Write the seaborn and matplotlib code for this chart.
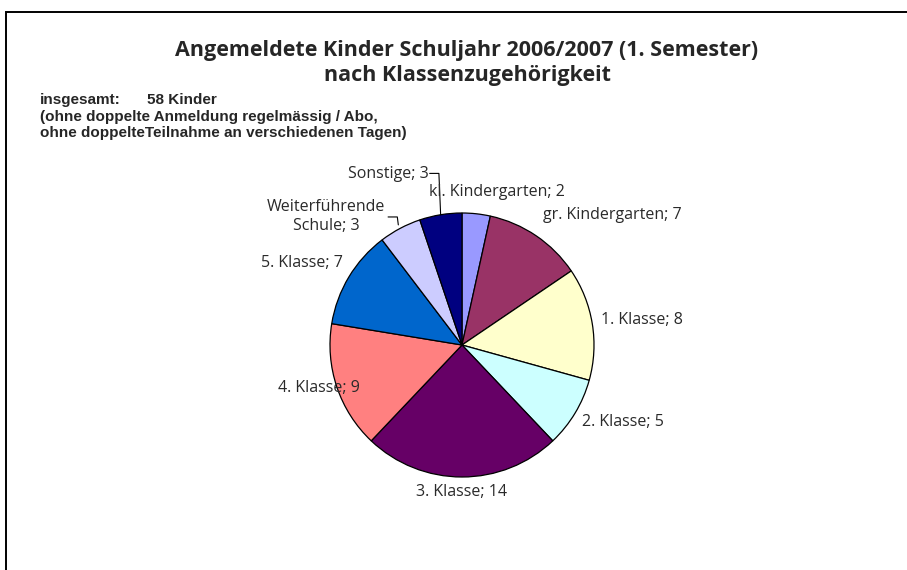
import numpy as np
import matplotlib
matplotlib.use("Agg")
import matplotlib.pyplot as plt
from matplotlib.patches import Rectangle
import seaborn as sns

# Data
categories = ["kl. Kindergarten", "gr. Kindergarten", "1. Klasse", "2. Klasse",
              "3. Klasse", "4. Klasse", "5. Klasse", "Weiterführende\nSchule", "Sonstige"]
counts = [2, 7, 8, 5, 14, 9, 7, 3, 3]
colors = ["#9999FF", "#993366", "#FFFFCC", "#CCFFFF", "#660066",
          "#FF8080", "#0066CC", "#CCCCFF", "#000080"]

title = "Angemeldete Kinder Schuljahr 2006/2007 (1. Semester)\nnach Klassenzugehörigkeit"
note_lines = ["(ohne doppelte Anmeldung regelmässig / Abo,",
              "ohne doppelteTeilnahme an verschiedenen Tagen)"]

# label placement (data units, radius = 1): x, y, ha
label_pos = [(-0.25, 1.16, "left"), (0.61, 0.985, "left"), (1.05, 0.19, "left"),
             (0.91, -0.585, "left"), (0.0, -1.115, "center"), (-0.775, -0.325, "right"),
             (-0.905, 0.62, "right"), (-1.03, 0.975, "center"), (-0.255, 1.295, "right")]

sns.set_theme(style="white")
plt.rcParams["font.family"] = ["Open Sans", "DejaVu Sans"]

W, H = 907, 570
fig = plt.figure(figsize=(W / 100, H / 100), dpi=100)
fig.patch.set_facecolor("white")

# pie axes: center at (462, 345) px, radius 132 px
r_px = 132
half = 200
ax = fig.add_axes([(462 - half) / W, (H - 345 - half) / H, 2 * half / W, 2 * half / H])

wedges, _ = ax.pie(counts, colors=colors, startangle=90, counterclock=False,
                   radius=1, wedgeprops=dict(edgecolor="black", linewidth=0.9))

lim = half / r_px
ax.set_xlim(-lim, lim)
ax.set_ylim(-lim, lim)
ax.set_aspect("equal")
ax.axis("off")

for cat, n, (x, y, ha) in zip(categories, counts, label_pos):
    ax.text(x, y, f"{cat}; {n}", ha=ha, va="center", fontsize=11.5,
            color="#2a2a2a", linespacing=1.3)

# leader lines for small slices
def edge_point(w, f=1.0):
    ang = np.deg2rad((w.theta1 + w.theta2) / 2)
    return f * np.cos(ang), f * np.sin(ang)

ex, ey = edge_point(wedges[8], 1.0)
ax.plot([-0.245, -0.175, ex], [1.30, 1.30, ey], color="black", lw=0.8)
ex, ey = edge_point(wedges[7], 1.03)
ax.plot([-0.56, -0.49, ex], [0.97, 0.97, ey], color="black", lw=0.8)

# title and notes
fig.text(467 / W, 1 - 63 / H, title, ha="center", va="center", fontsize=15.5,
         fontweight="bold", linespacing=1.25)
fig.text(40 / W, 1 - 100 / H, "insgesamt:", ha="left", va="center", fontsize=11,
         fontweight="bold", family="Liberation Sans")
fig.text(147 / W, 1 - 100 / H, "58 Kinder", ha="left", va="center", fontsize=11,
         fontweight="bold", family="Liberation Sans")
for i, line in enumerate(note_lines):
    fig.text(40 / W, 1 - (117 + 16.5 * i) / H, line, ha="left", va="center",
             fontsize=11, fontweight="bold", family="Liberation Sans")

# chart frame (right and bottom edges fall outside the image)
fig.add_artist(Rectangle((6 / W, -0.1), 1.2, 1.1 - 12 / H, transform=fig.transFigure,
                         fill=False, edgecolor="black", linewidth=1.4))

fig.savefig("out.png", dpi=100)
